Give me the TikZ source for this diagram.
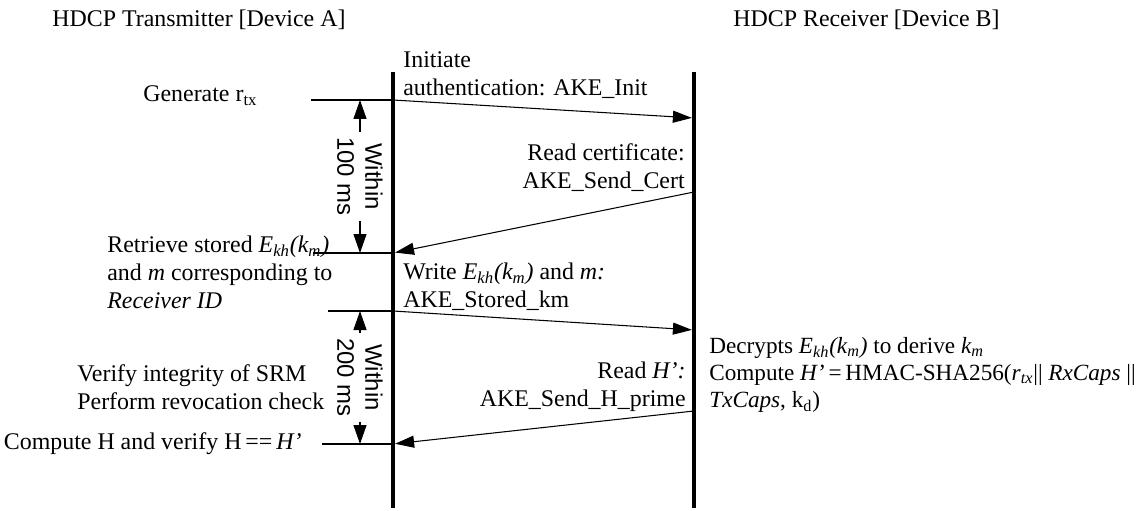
\documentclass[tikz,border=0pt]{standalone}
\usepackage{fontspec}
\setmainfont{Liberation Serif}
\setsansfont{Liberation Sans}
\usetikzlibrary{arrows.meta}
\newcommand{\ekhkm}{\textit{E\textsubscript{kh}(k\textsubscript{m})}}
\tikzset{
    lifeline/.style={
        draw=black,
        line width=2.3pt
    },
    message/.style={
        -{Triangle[length=3.8mm,width=2.4mm]},
        draw=black,
        line width=0.6pt,
        shorten >=1.2pt
    },
    tickline/.style={
        draw=black,
        line width=0.6pt
    },
    timing/.style={
        -{Triangle[length=3.8mm,width=2.6mm]},
        draw=black,
        line width=0.6pt
    },
    steptext/.style={
        inner sep=0pt,
        font=\fontsize{13.6}{15.9}\selectfont
    },
    stepleft/.style={
        steptext,
        anchor=west,
        align=left
    },
    stepright/.style={
        steptext,
        anchor=east,
        align=right
    },
    timingtext/.style={
        rotate=-90,
        align=center,
        inner sep=3pt,
        font=\sffamily\fontsize{13.6}{15.9}\selectfont
    }
}

\begin{document}
\begin{tikzpicture}
    \useasboundingbox (0,0) rectangle (22.94,-10.22);

    % device titles
    \node[stepleft] (txtitle) at (1.04,-0.40) {HDCP Transmitter [Device A]};
    \node[stepleft] (rxtitle) at (14.66,-0.40) {HDCP Receiver [Device B]};

    % lifelines
    \coordinate (txtop) at (7.86,-1.44);
    \coordinate (txbot) at (7.86,-10.16);
    \coordinate (rxtop) at (13.88,-1.44);
    \coordinate (rxbot) at (13.88,-10.16);
    \draw[lifeline] (txtop) -- (txbot);
    \draw[lifeline] (rxtop) -- (rxbot);

    % message points
    \coordinate (tx1) at (7.86,-2.00);
    \coordinate (rx1) at (13.88,-2.36);
    \coordinate (rx2) at (13.88,-3.84);
    \coordinate (tx2) at (7.86,-5.06);
    \coordinate (tx3) at (7.86,-6.22);
    \coordinate (rx3) at (13.88,-6.60);
    \coordinate (rx4) at (13.88,-8.22);
    \coordinate (tx4) at (7.86,-8.88);

    % tick ends
    \coordinate (tick1) at (6.22,-2.00);
    \coordinate (tick2) at (6.26,-5.06);
    \coordinate (tick3) at (6.56,-6.22);
    \coordinate (tick4) at (6.44,-8.88);
    \draw[tickline] (tick1) -- (tx1);
    \draw[tickline] (tick2) -- (tx2);
    \draw[tickline] (tick3) -- (tx3);
    \draw[tickline] (tick4) -- (tx4);

    % transmitter steps
    \node[stepleft] (generate) at (2.86,-1.92) {Generate r\textsubscript{tx}};
    \node[stepleft] (retrieve) at (2.14,-5.44)
        {Retrieve stored \ekhkm\\and \textit{m} corresponding to\\\textit{Receiver ID}};
    \node[stepleft] (verify) at (1.54,-7.75)
        {Verify integrity of SRM\\Perform revocation check};
    \node[stepright] (computeh) at (6.04,-8.88)
        {Compute H and verify H\,==\,\textit{H’}};

    % messages
    \node[stepleft] (init) at (8.06,-1.51)
        {Initiate\\authentication: AKE\_Init};
    \node[stepright] (readcert) at (13.70,-3.36)
        {Read certificate:\\AKE\_Send\_Cert};
    \node[stepleft] (write) at (8.06,-5.73)
        {Write \ekhkm{} and \textit{m:}\\AKE\_Stored\_km};
    \node[stepright] (readh) at (13.72,-7.73)
        {Read \textit{H’:}\\AKE\_Send\_H\_prime};

    \draw[message] (tx1) -- (rx1);
    \draw[message] (rx2) -- (tx2);
    \draw[message] (tx3) -- (rx3);
    \draw[message] (rx4) -- (tx4);

    % receiver steps
    \node[stepleft, font=\fontsize{13.2}{15.4}\selectfont] (decrypt) at (14.18,-7.50)
        {Decrypts \ekhkm{} to derive \textit{k\textsubscript{m}}\\
         Compute \textit{H’}\,=\,HMAC-SHA256(\textit{r\textsubscript{tx}}|| \textit{RxCaps} ||\\
         \textit{TxCaps}, k\textsubscript{d})};

    % timing limits
    \coordinate (limit1top) at (7.20,-2.00);
    \coordinate (limit1bot) at (7.20,-5.06);
    \coordinate (limit2top) at (7.20,-6.22);
    \coordinate (limit2bot) at (7.20,-8.88);
    \node[timingtext] (within100) at (7.20,-3.53) {Within\\100 ms};
    \node[timingtext] (within200) at (7.20,-7.55) {Within\\200 ms};
    \draw[timing] (within100.west) -- (limit1top);
    \draw[timing] (within100.east) -- (limit1bot);
    \draw[timing] (within200.west) -- (limit2top);
    \draw[timing] (within200.east) -- (limit2bot);
\end{tikzpicture}
\end{document}
